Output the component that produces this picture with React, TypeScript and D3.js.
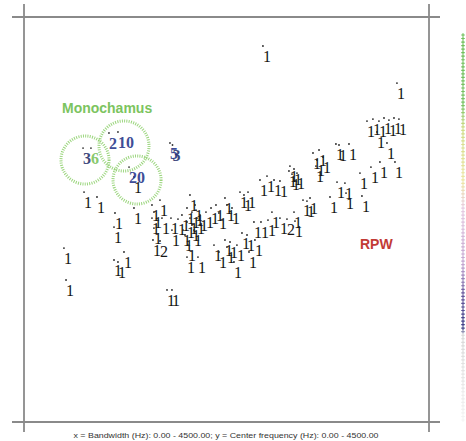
import React from 'react';
import * as d3 from 'd3';

// single detections ("1"), bandwidth (Hz) / center frequency (Hz)
const bandwidth = [
  2655, 4144, 3811, 3877, 3944, 4000, 4055, 4111, 4166, 3922, 4033, 3466, 3500, 3611,
  3733, 3855, 3955, 4122, 3755, 3400, 3478, 3566, 3578, 3100, 3178, 3144, 3211, 3255,
  3322, 3244, 3278, 2955, 3000, 3033, 2978, 2944, 2622, 2700, 2778, 2844, 2400, 2489,
  2444, 2555, 2633, 2711, 2755, 2844, 3000, 3011, 1511, 1422, 1444, 1422, 1533, 1444,
  1433, 1644, 1633, 1711, 1844, 1755, 1811, 1866, 1811, 1767, 1866, 1922, 1789, 1900,
  1844, 1889, 1822, 1811, 1933, 1911, 1955, 2022, 2078, 2133, 2166, 2233, 2255, 2311,
  2111, 2166, 2233, 2255, 2289, 2366, 2333, 2478, 2500, 2566, 2422, 667, 811, 1222,
  1011, 1000, 444, 467, 1000, 1044, 1111, 1589, 1644, 1222,
];
const centerFreq = [
  4178, 3766, 3344, 3366, 3344, 3378, 3355, 3378, 3366, 3222, 3100, 3089, 3078, 3089,
  2766, 2833, 2889, 2889, 2511, 2500, 2666, 2655, 2544, 2466, 2489, 2455, 2989, 2911,
  2944, 2844, 3022, 2844, 2811, 2766, 2755, 2789, 2689, 2733, 2689, 2678, 2555, 2555,
  2522, 2222, 2222, 2244, 2333, 2266, 2333, 2233, 2466, 2411, 2333, 2266, 2266, 2155,
  2022, 2133, 2266, 2255, 2522, 2300, 2378, 2333, 2222, 2133, 2189, 2266, 2078, 2411,
  2266, 2133, 1966, 1833, 1833, 2355, 2300, 2333, 2378, 2411, 2322, 2489, 2411, 2378,
  1966, 1889, 2022, 1944, 2000, 1966, 1778, 2078, 1889, 2022, 2100, 2555, 2500, 2378,
  2322, 2166, 1933, 1578, 1800, 1778, 1889, 1467, 1467, 2722,
];

// pairs ("2")
const pairBandwidth = [2922, 1511];
const pairCenterFreq = [2255, 2011];

// larger groups inside the Monochamus circles
const groupText = ['3', '6', '2', '10', '20', '5', '3'];
const groupBandwidth = [656, 744, 944, 1044, 1167, 1622, 1650];
const groupCenterFreq = [3044, 3044, 3211, 3222, 2833, 3100, 3078];
const groupColor = ['#2b3570', '#7cc45e', '#2b3a8c', '#2b3a8c', '#2b3a8c', '#2b3a8c', '#2b3570'];

// Monochamus circles: center (Hz) and radius (Hz)
const circleBandwidth = [678, 1111, 1256];
const circleCenterFreq = [2911, 3067, 2689];
const circleRadius = [267, 278, 267];

// colour column on the right
const legendStops = [0, 0.18, 0.24, 0.38, 0.45, 0.6, 0.67, 0.76, 0.78, 1];
const legendColors = ['#6fbf5a', '#79c264', '#cfdc86', '#ede6a4', '#e6cbe2', '#c0a3cf', '#6a5a9e', '#3e3e86', '#d8d8d8', '#f4f4f4'];
const legendCount = 110;

const W = 466;
const H = 441;

export default function App() {
  const x = d3.scaleLinear().domain([0, 4500]).range([24, 429]);
  const y = d3.scaleLinear().domain([0, 4500]).range([422, 17]);
  const rPx = (hz: number) => x(hz) - x(0);

  const legendY = d3.scaleLinear().domain([0, legendCount - 1]).range([35, 420]);
  const legendColor = d3
    .scaleLinear<string>()
    .domain(legendStops)
    .range(legendColors)
    .interpolate(d3.interpolateRgb);
  const cross = d3.symbol().type(d3.symbolCross).size(7)();

  const serif = '"Liberation Serif", "DejaVu Serif", serif';
  const sans = '"Liberation Sans", Arial, sans-serif';

  return (
    <svg width={W} height={H} style={{ position: 'absolute', left: 0, top: 0, background: '#fff' }}>
      {/* frame */}
      <g stroke="#8a8a8a" strokeWidth={1.8}>
        <line x1={12} x2={440} y1={y(4500)} y2={y(4500)} />
        <line x1={12} x2={440} y1={y(0)} y2={y(0)} />
        <line x1={x(0)} x2={x(0)} y1={4} y2={432} />
        <line x1={x(4500)} x2={x(4500)} y1={4} y2={432} />
      </g>

      {/* circles */}
      {circleBandwidth.map((bw, i) => (
        <circle
          key={'c' + i}
          cx={x(bw)}
          cy={y(circleCenterFreq[i])}
          r={rPx(circleRadius[i])}
          fill="none"
          stroke="#8fd06e"
          strokeWidth={3}
          strokeDasharray="1 1.3"
          opacity={0.9}
        />
      ))}

      {/* single detections */}
      <g fontFamily={serif} fontSize={16} fill="#151515">
        {bandwidth.map((bw, i) => (
          <g key={'p' + i}>
            <circle cx={x(bw)} cy={y(centerFreq[i])} r={0.9} fill="#222" />
            <text x={x(bw)} y={y(centerFreq[i]) + 16}>1</text>
          </g>
        ))}
        {pairBandwidth.map((bw, i) => (
          <g key={'q' + i}>
            <circle cx={x(bw)} cy={y(pairCenterFreq[i])} r={0.9} fill="#222" />
            <text x={x(bw)} y={y(pairCenterFreq[i]) + 16}>2</text>
          </g>
        ))}
      </g>

      {/* groups */}
      <g fontFamily={serif} fontSize={16} fontWeight="bold">
        {groupText.map((t, i) => (
          <g key={'g' + i}>
            <circle cx={x(groupBandwidth[i])} cy={y(groupCenterFreq[i])} r={0.9} fill="#333" />
            <text x={x(groupBandwidth[i])} y={y(groupCenterFreq[i]) + 16} fill={groupColor[i]} opacity={0.9}>
              {t}
            </text>
          </g>
        ))}
      </g>

      {/* annotations */}
      <text x={x(422)} y={y(3433)} fontFamily={sans} fontSize={14} fontWeight="bold" fill="#7cc45e">
        Monochamus
      </text>
      <text x={x(3733)} y={y(1922)} fontFamily={sans} fontSize={14} fontWeight="bold" fill="#c23a35">
        RPW
      </text>

      {/* colour column */}
      {d3.range(legendCount).map((i) => (
        <path
          key={'l' + i}
          d={cross ?? ''}
          transform={`translate(463,${legendY(i)})`}
          fill={legendColor(i / (legendCount - 1))}
        />
      ))}

      <text
        x={226}
        y={438}
        textAnchor="middle"
        fontFamily={sans}
        fontSize={8}
        fill="#333"
        textLength={305}
        lengthAdjust="spacingAndGlyphs"
      >
        x = Bandwidth (Hz): 0.00 - 4500.00;   y = Center frequency (Hz): 0.00 - 4500.00
      </text>
    </svg>
  );
}
